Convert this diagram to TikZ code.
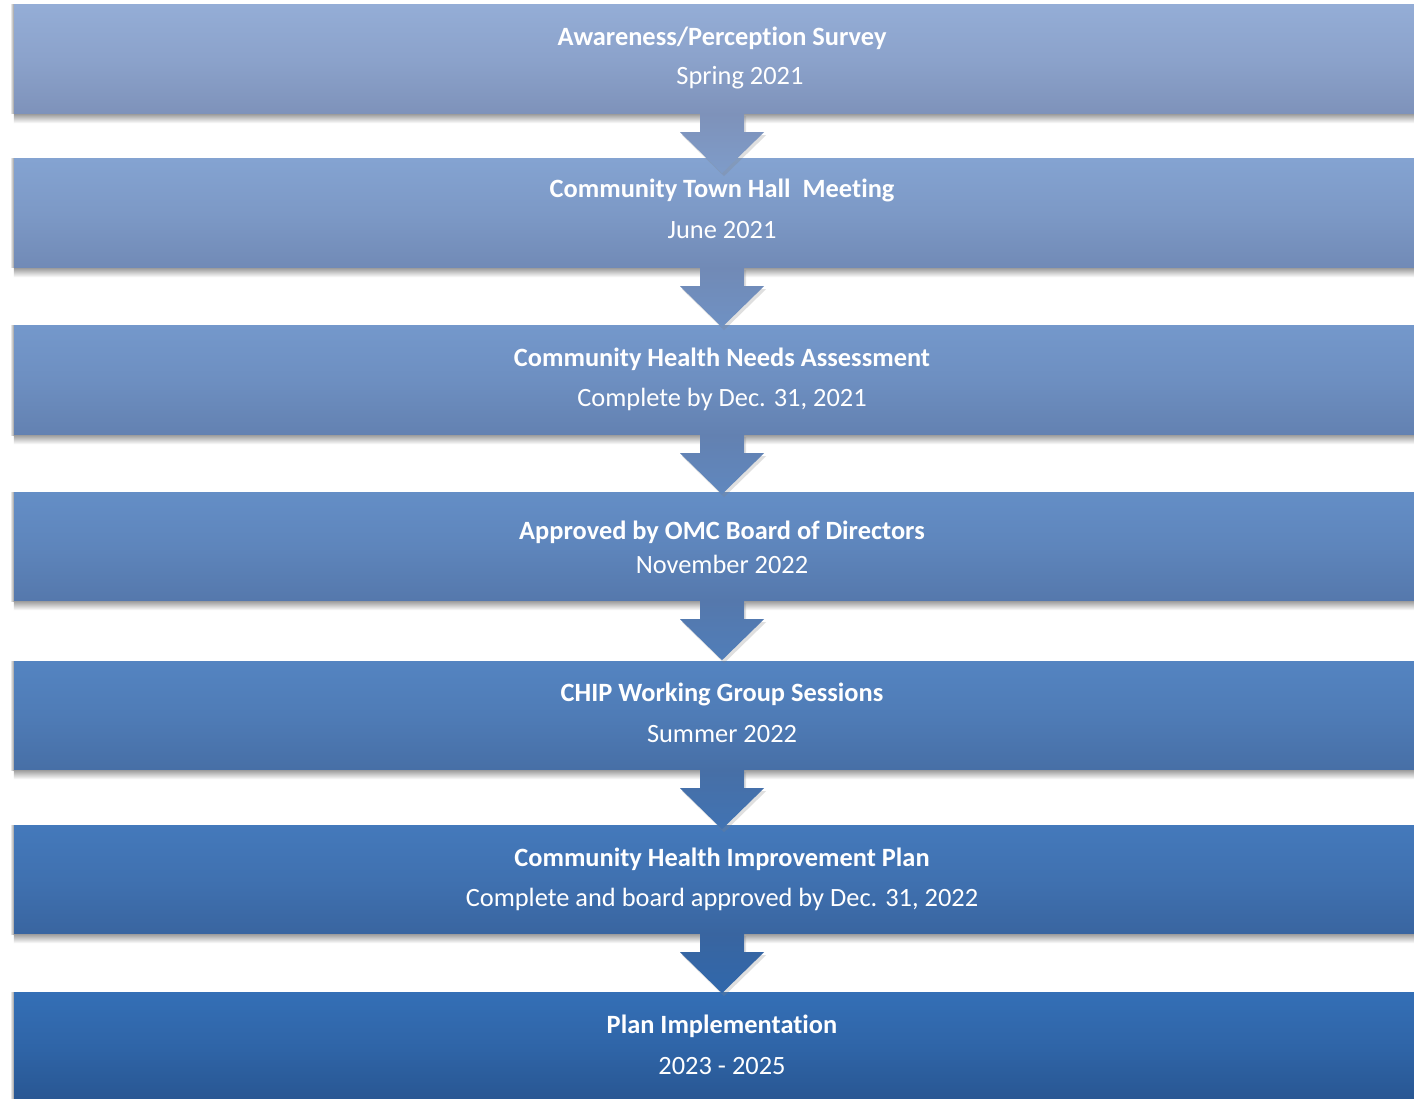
\documentclass[tikz,border=0pt]{standalone}
\usepackage{fontspec}
\setmainfont[Ligatures=NoCommon]{Carlito}
\usetikzlibrary{calc,shadows}
\definecolor{t1}{RGB}{148,173,214}\definecolor{d1}{RGB}{126,146,186}
\definecolor{t2}{RGB}{132,163,209}\definecolor{d2}{RGB}{113,138,182}
\definecolor{t3}{RGB}{116,152,203}\definecolor{d3}{RGB}{99,129,177}
\definecolor{t4}{RGB}{100,142,198}\definecolor{d4}{RGB}{85,120,172}
\definecolor{t5}{RGB}{84,132,193}\definecolor{d5}{RGB}{71,111,166}
\definecolor{t6}{RGB}{68,121,187}\definecolor{d6}{RGB}{57,101,160}
\definecolor{t7}{RGB}{52,111,182}\definecolor{d7}{RGB}{40,86,146}
\tikzset{
  stagebox/.style={rectangle, inner sep=0pt, minimum width=1416pt, minimum height=109pt},
  ttl/.style={text=white, font=\bfseries\fontsize{26.4}{30}\selectfont, inner sep=0pt},
  sub/.style={text=white, font=\fontsize{26.4}{30}\selectfont, inner sep=0pt},
}
\begin{document}
\begin{tikzpicture}[x=1pt,y=-1pt]
\useasboundingbox (0,0) rectangle (1414,1099);
\fill[white] (0,0) rectangle (1414,1099);
% boxes
\foreach \i/\yc in {1/59.5,2/213.5,3/380.5,4/546.5,5/715.5,6/879.5,7/1046.5}{
  \shade[top color=white, bottom color=black!40, shading angle=90] (10,\yc-54.5) rectangle (14,\yc+54.5);
  \node[stagebox, top color=t\i, bottom color=d\i, middle color=t\i!60!d\i] (b\i) at (722,\yc) {};
  \shade[top color=black!38, bottom color=white] (b\i.south west) rectangle ($(b\i.south east)+(0,9)$);
}
% arrows
\foreach \i/\j in {1/2,2/3,3/4,4/5,5/6,6/7}{
  \coordinate (a\i) at (b\i.south);
  \shade[top color=d\i, bottom color=t\j!70!d\j, drop shadow={opacity=0.25, shadow xshift=2pt, shadow yshift=-3pt}]
    ($(a\i)+(-22,-1)$) -- ($(a\i)+(22,-1)$) -- ($(a\i)+(22,18)$) -- ($(a\i)+(42,18)$)
    -- ($(a\i)+(0,59)$) -- ($(a\i)+(-42,18)$) -- ($(a\i)+(-22,18)$) -- cycle;
}
% texts
\node[ttl] (h1) at (722,38) {Awareness/Perception Survey};
\node[sub] (s1) at (740,78) {Spring 2021};
\node[ttl] (h2) at (722,190) {Community Town Hall\ \ Meeting};
\node[sub] (s2) at (722,230) {June 2021};
\node[ttl] (h3) at (722,359) {Community Health Needs Assessment};
\node[sub] (s3) at (722,399) {Complete by Dec. 31, 2021};
\node[ttl] (h4) at (722,532) {Approved by OMC Board of Directors};
\node[sub] (s4) at (722,564) {November 2022};
\node[ttl] (h5) at (722,694) {CHIP Working Group Sessions};
\node[sub] (s5) at (722,734) {Summer 2022};
\node[ttl] (h6) at (722,859) {Community Health Improvement Plan};
\node[sub] (s6) at (722,899) {Complete and board approved by Dec. 31, 2022};
\node[ttl] (h7) at (722,1026) {Plan Implementation};
\node[sub] (s7) at (722,1066) {2023 - 2025};
\end{tikzpicture}
\end{document}
